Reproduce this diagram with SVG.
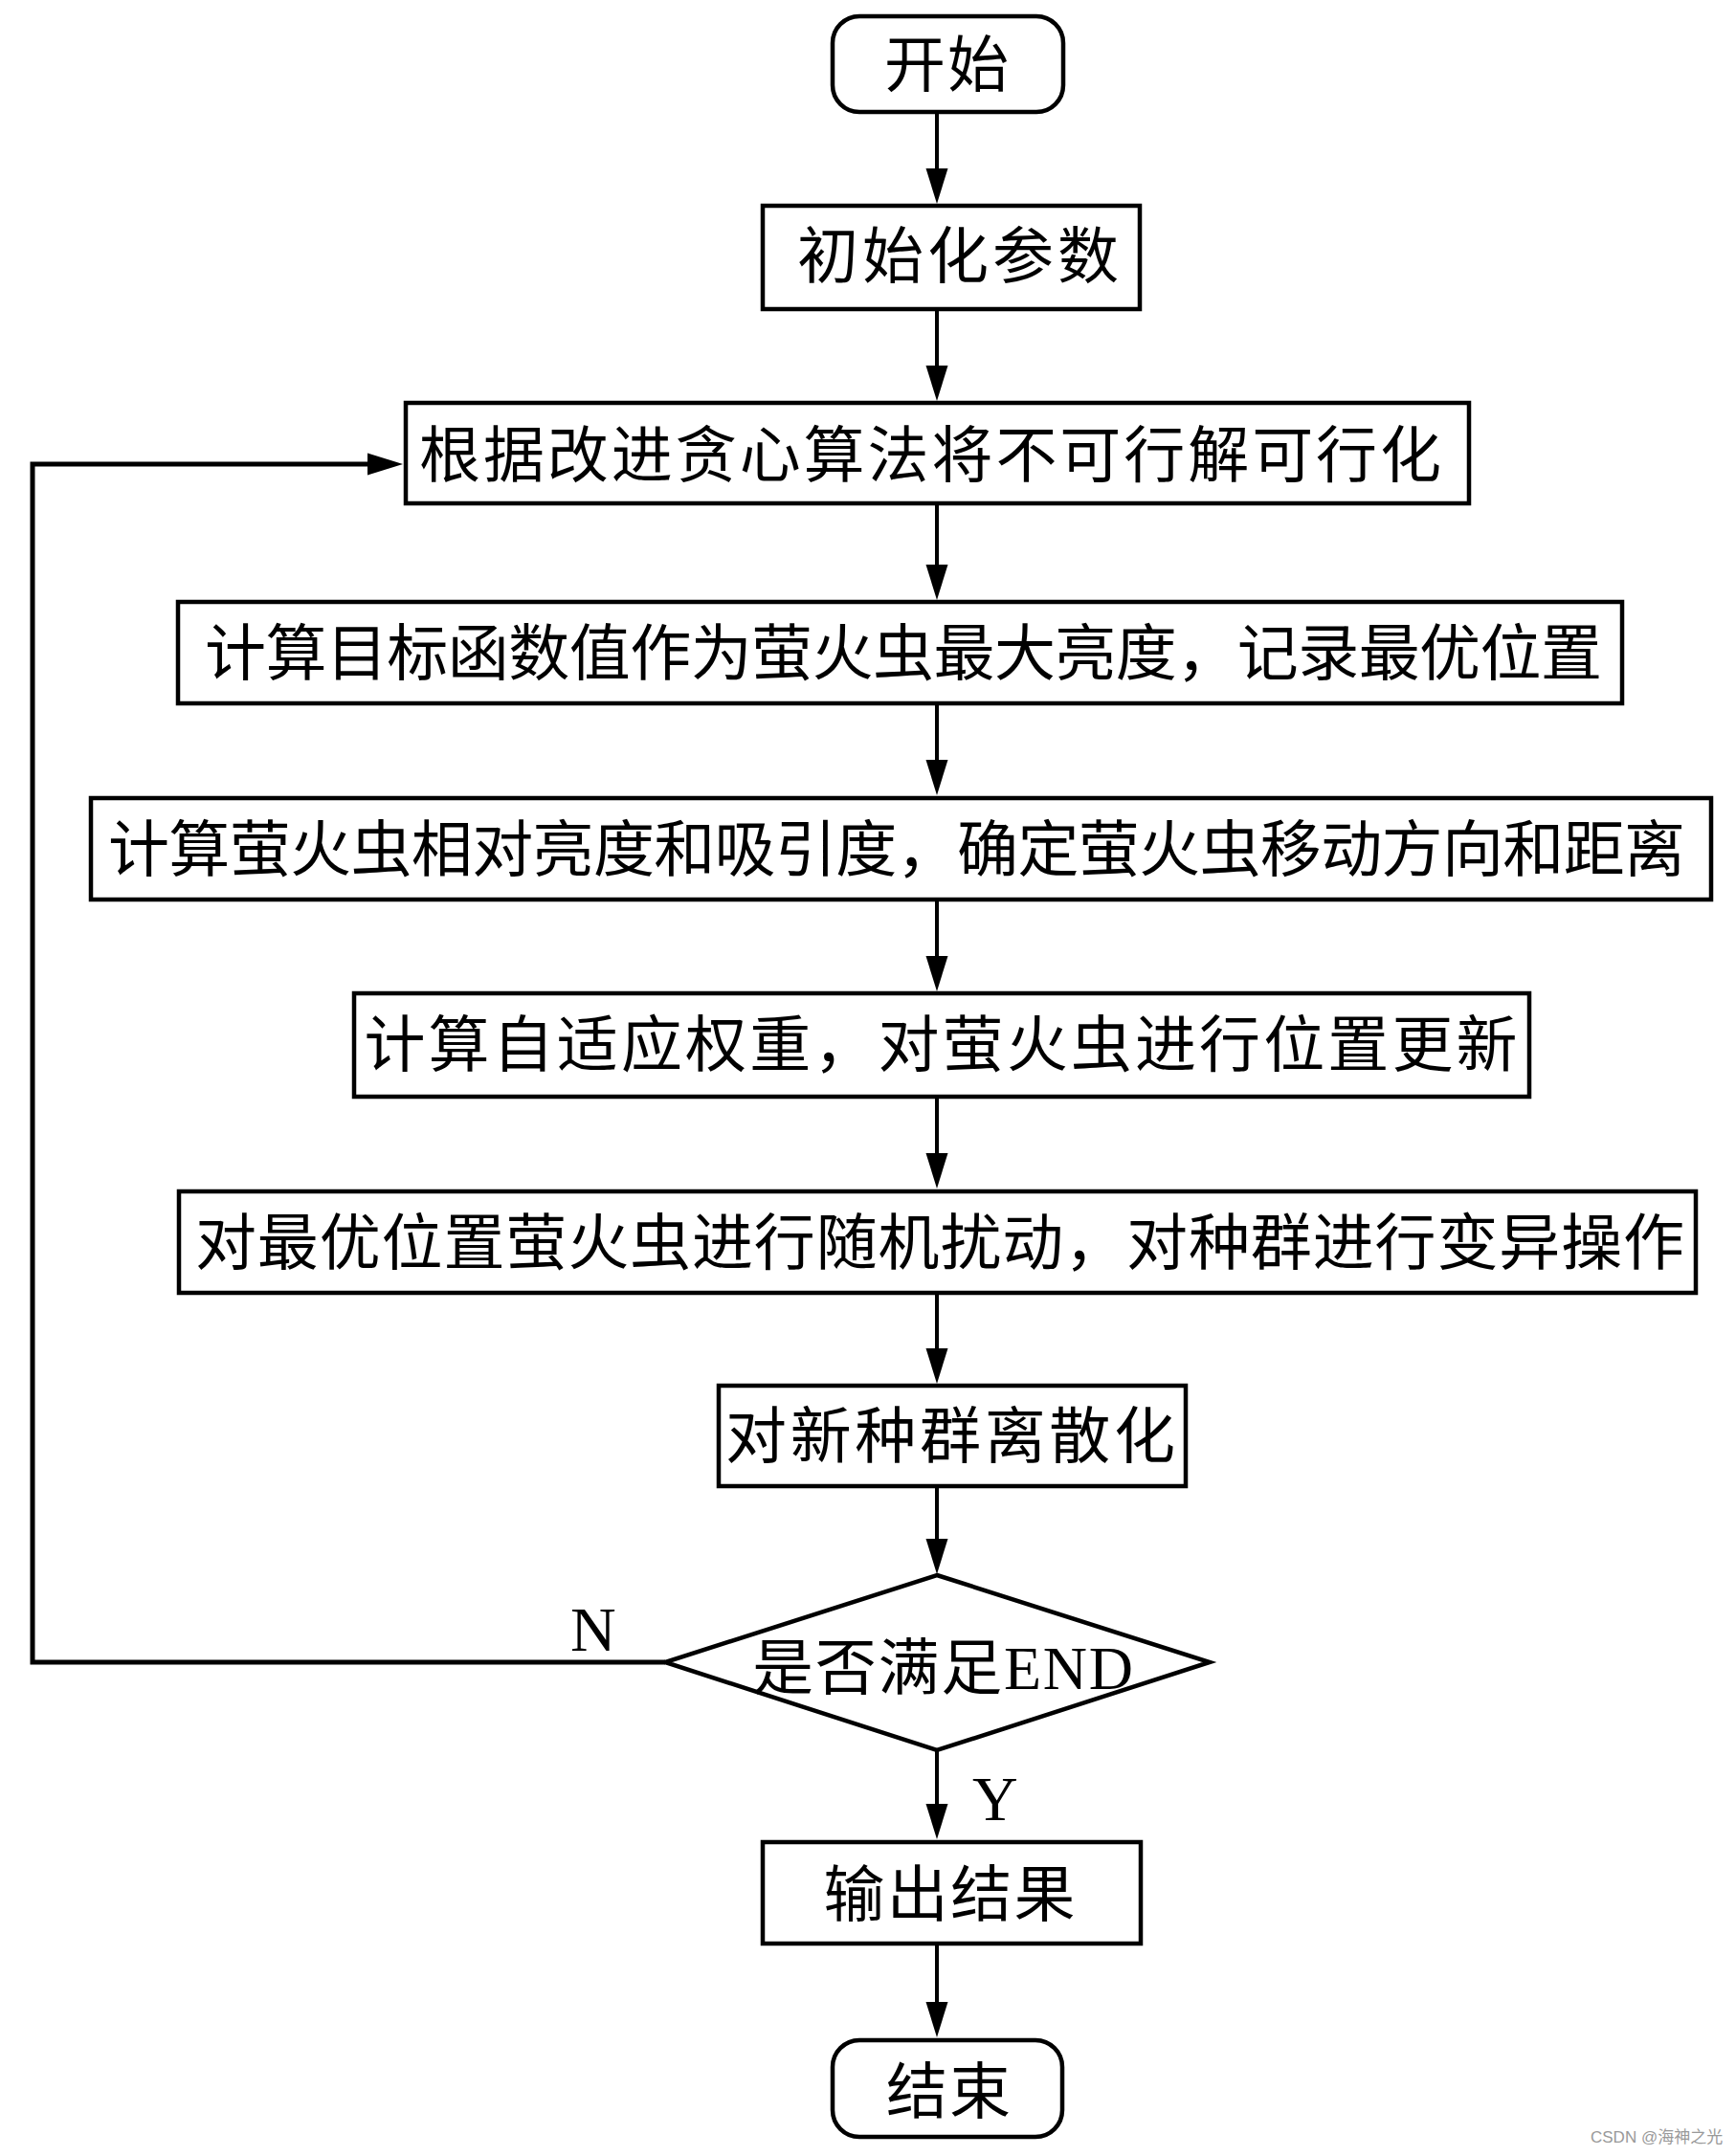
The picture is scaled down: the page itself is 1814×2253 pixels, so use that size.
<svg xmlns="http://www.w3.org/2000/svg" xmlns:xlink="http://www.w3.org/1999/xlink" width="1814" height="2253" viewBox="0 0 1814 2253">
<style>
.box{fill:#fff;stroke:#000;stroke-width:4.5}
.ln{fill:none;stroke:#000;stroke-width:4}
.loop{fill:none;stroke:#000;stroke-width:5}
.t{font-family:"Liberation Serif","Noto Sans CJK SC",serif;font-size:64px;fill:#000;text-anchor:middle;dominant-baseline:central}
.lbl{font-family:"Liberation Serif",serif;font-size:66px;fill:#000}
.wm{font-family:"Liberation Sans","Noto Sans CJK SC",sans-serif;font-size:17px;fill:#999}
</style>
<defs>
<path id="ah" d="M0,0 L-11.5,-37 L11.5,-37 Z" fill="#000"/>
</defs>
<rect width="1814" height="2253" fill="#fff"/>
<g id="connectors">
<line class="ln" x1="979" y1="119" x2="979" y2="185"/><use xlink:href="#ah" x="979" y="213"/>
<line class="ln" x1="979" y1="325" x2="979" y2="391"/><use xlink:href="#ah" x="979" y="419"/>
<line class="ln" x1="979" y1="528" x2="979" y2="599"/><use xlink:href="#ah" x="979" y="627"/>
<line class="ln" x1="979" y1="737" x2="979" y2="803"/><use xlink:href="#ah" x="979" y="831"/>
<line class="ln" x1="979" y1="942" x2="979" y2="1008"/><use xlink:href="#ah" x="979" y="1036"/>
<line class="ln" x1="979" y1="1148" x2="979" y2="1214"/><use xlink:href="#ah" x="979" y="1242"/>
<line class="ln" x1="979" y1="1353" x2="979" y2="1418"/><use xlink:href="#ah" x="979" y="1446"/>
<line class="ln" x1="979" y1="1555" x2="979" y2="1617"/><use xlink:href="#ah" x="979" y="1645"/>
<line class="ln" x1="979" y1="1830" x2="979" y2="1894"/><use xlink:href="#ah" x="979" y="1922"/>
<line class="ln" x1="979" y1="2033" x2="979" y2="2101"/><use xlink:href="#ah" x="979" y="2129"/>
<polyline class="loop" points="695,1737 34,1737 34,485 393,485"/>
<use xlink:href="#ah" transform="translate(421,485) rotate(-90)"/>
<text class="lbl" x="596" y="1725">N</text>
<text class="lbl" x="1016" y="1902">Y</text>
</g>
<g id="start"><rect class="box" x="870" y="17" width="241" height="100" rx="28"/><text class="t" x="989" y="68" textLength="130">开始</text></g>
<g id="init"><rect class="box" x="797" y="215" width="394" height="108"/><text class="t" x="1001" y="268" textLength="336">初始化参数</text></g>
<g id="greedy"><rect class="box" x="424" y="421" width="1111" height="105"/><text class="t" x="972" y="476" textLength="1068">根据改进贪心算法将不可行解可行化</text></g>
<g id="objective"><rect class="box" x="186" y="629" width="1509" height="106"/><text class="t" x="944" y="683" textLength="1460">计算目标函数值作为萤火虫最大亮度，记录最优位置</text></g>
<g id="attract"><rect class="box" x="95" y="834" width="1693" height="106"/><text class="t" x="937" y="888" textLength="1648">计算萤火虫相对亮度和吸引度，确定萤火虫移动方向和距离</text></g>
<g id="weight"><rect class="box" x="370" y="1038" width="1228" height="108"/><text class="t" x="983" y="1092" textLength="1205">计算自适应权重，对萤火虫进行位置更新</text></g>
<g id="perturb"><rect class="box" x="187" y="1245" width="1585" height="106"/><text class="t" x="982" y="1299" textLength="1556">对最优位置萤火虫进行随机扰动，对种群进行变异操作</text></g>
<g id="discrete"><rect class="box" x="751" y="1448" width="488" height="105"/><text class="t" x="993" y="1501" textLength="470">对新种群离散化</text></g>
<g id="decision"><polygon class="box" points="979,1646 1264,1737 979,1829 695,1737"/><text class="t" x="985" y="1743" textLength="398">是否满足END</text></g>
<g id="output"><rect class="box" x="797" y="1925" width="395" height="106"/><text class="t" x="992" y="1980" textLength="263">输出结果</text></g>
<g id="end"><rect class="box" x="870" y="2132" width="240" height="101" rx="28"/><text class="t" x="991" y="2186" textLength="130">结束</text></g>
<text class="wm" x="1662" y="2239">CSDN @海神之光</text>
</svg>
